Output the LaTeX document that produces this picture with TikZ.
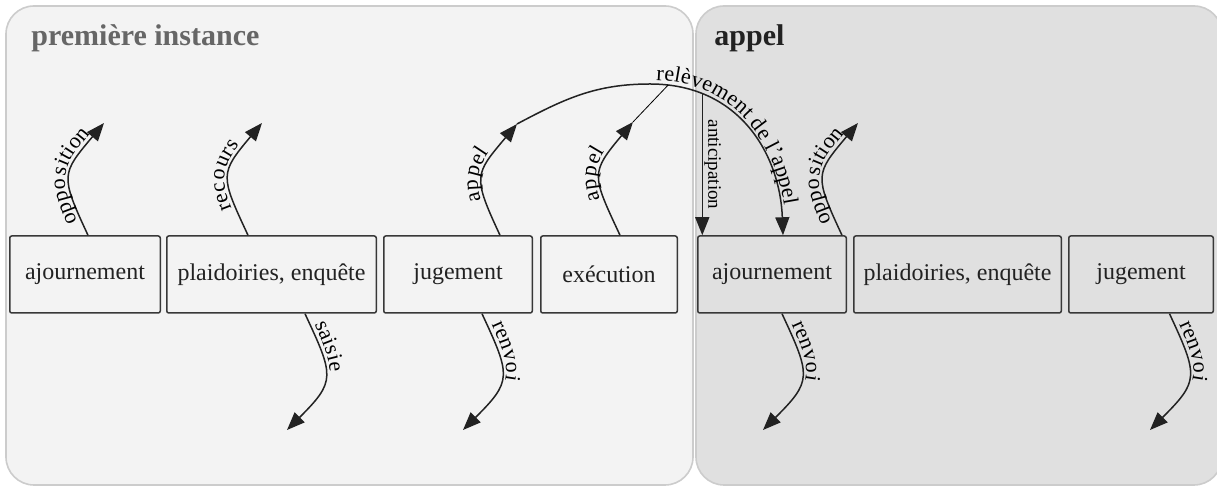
\documentclass[tikz,border=0pt]{standalone}
\usepackage{fontspec}
\setmainfont{Liberation Serif}
\usetikzlibrary{positioning,calc,arrows.meta,decorations.text}
\definecolor{panelA}{HTML}{F3F3F3}
\definecolor{panelB}{HTML}{E0E0E0}
\definecolor{panelline}{HTML}{CCCCCC}
\definecolor{ink}{HTML}{222222}
\newcommand{\boxfont}{\fontsize{12}{14}\selectfont}
\newcommand{\lblfont}{\fontsize{11}{13}\selectfont}
\newcommand{\smallfont}{\fontsize{9.5}{11}\selectfont}
\tikzset{
    panel/.style={draw=panelline, line width=0.8pt, rounded corners=14pt},
    title/.style={anchor=base west, inner sep=0pt, font=\bfseries\fontsize{15}{18}\selectfont},
    stage/.style={draw=ink!90, line width=0.75pt, rounded corners=1pt, minimum height=38.5pt, inner sep=2pt, font=\boxfont, text=ink},
    flow/.style={draw=ink, line width=0.75pt, -{Triangle[length=9pt,width=7pt]}},
    lbl/.style={postaction={decorate, decoration={text along path, text align=center, raise=2pt, text={|\lblfont|#1}}}},
    lblstart/.style={postaction={decorate, decoration={text along path, text align={left indent=3pt}, raise=2pt, text={|\lblfont|#1}}}},
    lbldown/.style={postaction={decorate, decoration={text along path, text align={left indent=7pt}, raise=2pt, text={|\lblfont|#1}}}},
    lblsmall/.style={postaction={decorate, decoration={text along path, text align=center, raise=3pt, text={|\smallfont|#1}}}},
}
\begin{document}
\begin{tikzpicture}[x=0.5pt,y=0.5pt]
    \useasboundingbox (0,0) rectangle (1217,486);
    \fill[white] (0,0) rectangle (1217,486);
    \draw[panel, fill=panelA] (6,1) rectangle (693,480);
    \draw[panel, fill=panelB] (696,1) rectangle (1222,480);
    \node[title, text=black!60] (ttl1) at (31,440) {première instance};
    \node[title, text=ink] (ttl2) at (714,440) {appel};

    \node[stage, minimum width=75.25pt] (aj1) at (85,211.5) {ajournement};
    \node[stage, minimum width=104.75pt] (pl1) at (271.5,211.5) {plaidoiries, enquête};
    \node[stage, minimum width=74.25pt] (ju1) at (458,211.5) {jugement};
    \node[stage, minimum width=68.25pt] (ex1) at (609,211.5) {exécution};
    \node[stage, minimum width=74.25pt] (aj2) at (772,211.5) {ajournement};
    \node[stage, minimum width=103.75pt] (pl2) at (957.5,211.5) {plaidoiries, enquête};
    \node[stage, minimum width=72.25pt] (ju2) at (1141,211.5) {jugement};

    \coordinate (o1) at (104,363);
    \coordinate (rc) at (262,363);
    \coordinate (m1) at (517,362);
    \coordinate (m2) at (633,364);
    \coordinate (peak) at (650,402);
    \coordinate (o2) at (858,363);
    \coordinate (s1) at (287,56);
    \coordinate (r1) at (463,56);
    \coordinate (r2) at (763,56);
    \coordinate (r3) at (1150,56);

    \draw[flow, lbl=opposition] ($(aj1.north)+(3,0)$) to[out=115,in=230,looseness=1.5] (o1);
    \draw[flow, lbl=recours] ($(pl1.north)+(-23.5,0)$) to[out=115,in=230,looseness=1.5] (rc);
    \draw[flow, lbl=appel] ($(ju1.north)+(42,0)$) to[out=115,in=230,looseness=1.5] (m1);
    \draw[flow, lbl=appel] ($(ex1.north)+(11,0)$) to[out=115,in=230,looseness=1.5] (m2);
    \draw[flow, lbl=opposition] ($(aj2.north)+(70,0)$) to[out=115,in=230,looseness=1.5] (o2);

    \draw[flow] (m1) to[out=28,in=180] (peak) .. controls +(90,0) and +(-3,80) .. ($(aj2.north)+(11,0)$) coordinate[pos=0.07] (join) coordinate[pos=0.22] (antic);
    \path[lblstart=relèvement de l'appel] (peak) .. controls +(90,0) and +(-3,80) .. ($(aj2.north)+(11,0)$);
    \draw (m2) -- (join);
    \draw[flow, lblsmall=anticipation] (antic) -- (antic |- aj2.north);

    \draw[flow, lbldown=saisie] ($(pl1.south)+(33.5,0)$) to[out=-65,in=45,looseness=1.5] (s1);
    \draw[flow, lbldown=renvoi] ($(ju1.south)+(24,0)$) to[out=-65,in=45,looseness=1.5] (r1);
    \draw[flow, lbldown=renvoi] ($(aj2.south)+(10,0)$) to[out=-65,in=45,looseness=1.5] (r2);
    \draw[flow, lbldown=renvoi] ($(ju2.south)+(28.5,0)$) to[out=-65,in=45,looseness=1.5] (r3);
\end{tikzpicture}
\end{document}
